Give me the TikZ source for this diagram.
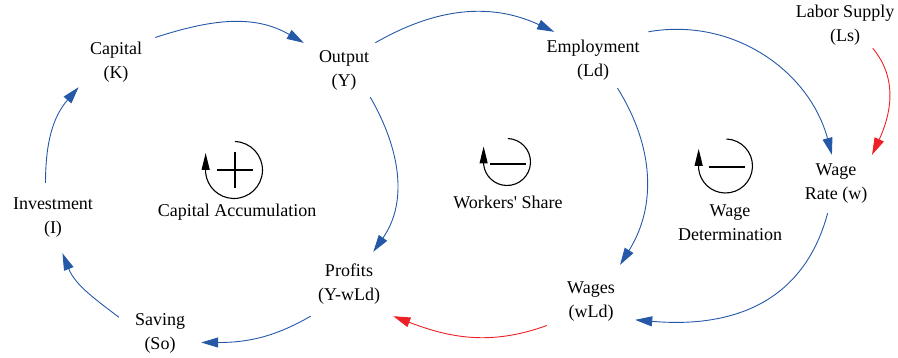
\documentclass[tikz,border=0pt]{standalone}
\usepackage{fontspec}
\setmainfont{Liberation Serif}
\usetikzlibrary{arrows.meta}
\definecolor{linkblue}{RGB}{38,88,168}
\definecolor{linkred}{RGB}{236,32,38}

\begin{document}
\begin{tikzpicture}[x=1pt,y=1pt,
    blue link/.style={draw=linkblue,line width=0.9pt,-{Triangle[length=17pt,width=10pt]}},
    red link/.style={draw=linkred},
    loopline/.style={line width=1.1pt,-{Triangle[length=17pt,width=8pt]}},
    loopsign/.style={line width=2.4pt}]

        \useasboundingbox (0,0) rectangle (898,-358);

        \begin{scope}[every node/.style={align=center,inner sep=0pt,font=\fontsize{18}{24}\selectfont}]
          \node[minimum width=78pt,minimum height=50pt]  (K)   at (116,-62)  {Capital\\(K)};
          \node[minimum width=80pt,minimum height=54pt]  (Y)   at (344,-70)  {Output\\(Y)};
          \node[minimum width=116pt,minimum height=56pt] (Ld)  at (593,-60)  {Employment\\(Ld)};
          \node[minimum width=120pt,minimum height=46pt] (Ls)  at (845,-25)  {Labor Supply\\(Ls)};
          \node[minimum width=90pt,minimum height=58pt]  (w)   at (836,-184) {Wage\\Rate (w)};
          \node[minimum width=88pt,minimum height=74pt]  (wLd) at (591,-302) {Wages\\(wLd)};
          \node[minimum width=90pt,minimum height=64pt]  (P)   at (349,-284) {Profits\\(Y-wLd)};
          \node[minimum width=82pt,minimum height=50pt]  (So)  at (160,-333) {Saving\\(So)};
          \node[minimum width=92pt,minimum height=70pt]  (I)   at (53,-218)  {Investment\\(I)};

          \node (accum)  at (237,-212)   {Capital Accumulation};
          \node (share)  at (508,-202)   {Workers{\textquotesingle} Share};
          \node (determ) at (730,-222.5) {Wage\\Determination};
        \end{scope}

        \begin{scope}[every edge/.style={blue link}]
          \path (K.32)    edge[out=18,in=150]   (Y.146);
          \path (Y.41)    edge[out=30,in=155]   (Ld.144);
          \path (Ld.27)   edge[out=10,in=105]   (w.98);
          \path (Ls.-40)  edge[red link,out=-50,in=65] (w.39);
          \path (Ld.-49)  edge[out=-58,in=58]   (wLd.52);
          \path (Y.-46)   edge[out=-60,in=55]   (P.53);
          \path (w.-106)  edge[out=-105,in=-5,looseness=1.1] (wLd.-22);
          \path (wLd.-152) edge[red link,out=-160,in=-21] (P.-36);
          \path (P.-140)  edge[out=-150,in=0]   (So.-13);
          \path (So.159)  edge[out=143,in=-68]  (I.-75);
          \path (I.102)   edge[out=90,in=-131]  (K.-146);
        \end{scope}

        % loop markers
        \coordinate (ca) at (234,-170);
        \coordinate (ws) at (507,-162);
        \coordinate (wd) at (725.5,-166);

        \draw[loopline] (ca) ++(88:28.5) arc[start angle=88,end angle=-174,radius=28.5pt] -- ++(0,20);
        \draw[loopsign] (ca) +(-17,0) -- +(19,0) (ca) +(1,-18) -- +(1,18);

        \draw[loopline] (ws) ++(88:23.5) arc[start angle=88,end angle=-174,radius=23.5pt] -- ++(0,18);
        \draw[loopsign] (ws) +(-17,-2) -- +(19,-2);

        \draw[loopline] (wd) ++(88:27) arc[start angle=88,end angle=-174,radius=27pt] -- ++(0,20);
        \draw[loopsign] (wd) +(-17,-1) -- +(19,-1);

      \end{tikzpicture}
\end{document}
